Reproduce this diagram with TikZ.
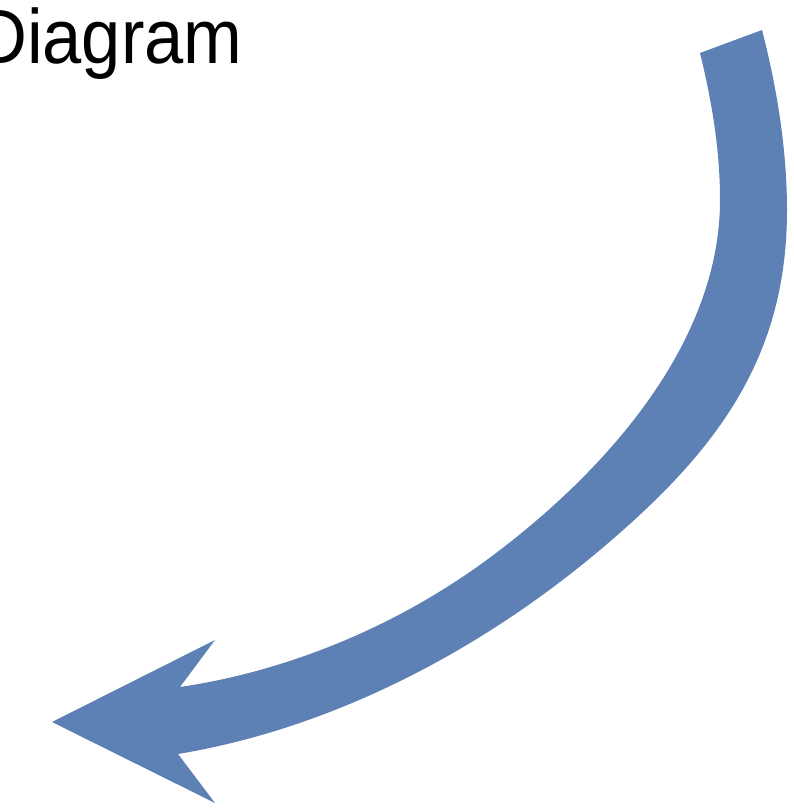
\documentclass[tikz,border=0pt]{standalone}
\usepackage{fontspec}
\usepackage{graphicx}
\setmainfont{Liberation Sans}
\definecolor{arrowblue}{RGB}{93,129,181}
\begin{document}
\begin{tikzpicture}[x=1pt,y=-1pt,
  bigarrow/.style={fill=arrowblue,draw=none},
  titletext/.style={inner sep=0pt,outer sep=0pt,font=\fontsize{77}{90}\selectfont}]
\useasboundingbox (0,0) rectangle (794,809);
\node[titletext,anchor=base east] (title) at (242.5,63) {\scalebox{0.915}[1]{Diagram}};
% outer edge
\coordinate (oA) at (762,30);
\coordinate (oB) at (787,210);
\coordinate (oC) at (600,550);
\coordinate (oD) at (178,754);
% arrow head
\coordinate (hL) at (215,803);
\coordinate (hT) at (52,722);
\coordinate (hU) at (215,640);
% inner edge
\coordinate (iE) at (180,687);
\coordinate (iF) at (500,550);
\coordinate (iH) at (720,200);
\coordinate (iI) at (700,53);
\fill[bigarrow]
  (oA) .. controls (777,88) and (787,150) .. (oB)
       .. controls (787,360) and (715,453) .. (oC)
       .. controls (481,650) and (334,728) .. (oD)
  -- (hL) -- (hT) -- (hU) -- (iE)
       .. controls (295,670) and (408,621) .. (iF)
       .. controls (611,465) and (720,340) .. (iH)
       .. controls (720,150) and (712,102) .. (iI)
  -- cycle;
\end{tikzpicture}
\end{document}
